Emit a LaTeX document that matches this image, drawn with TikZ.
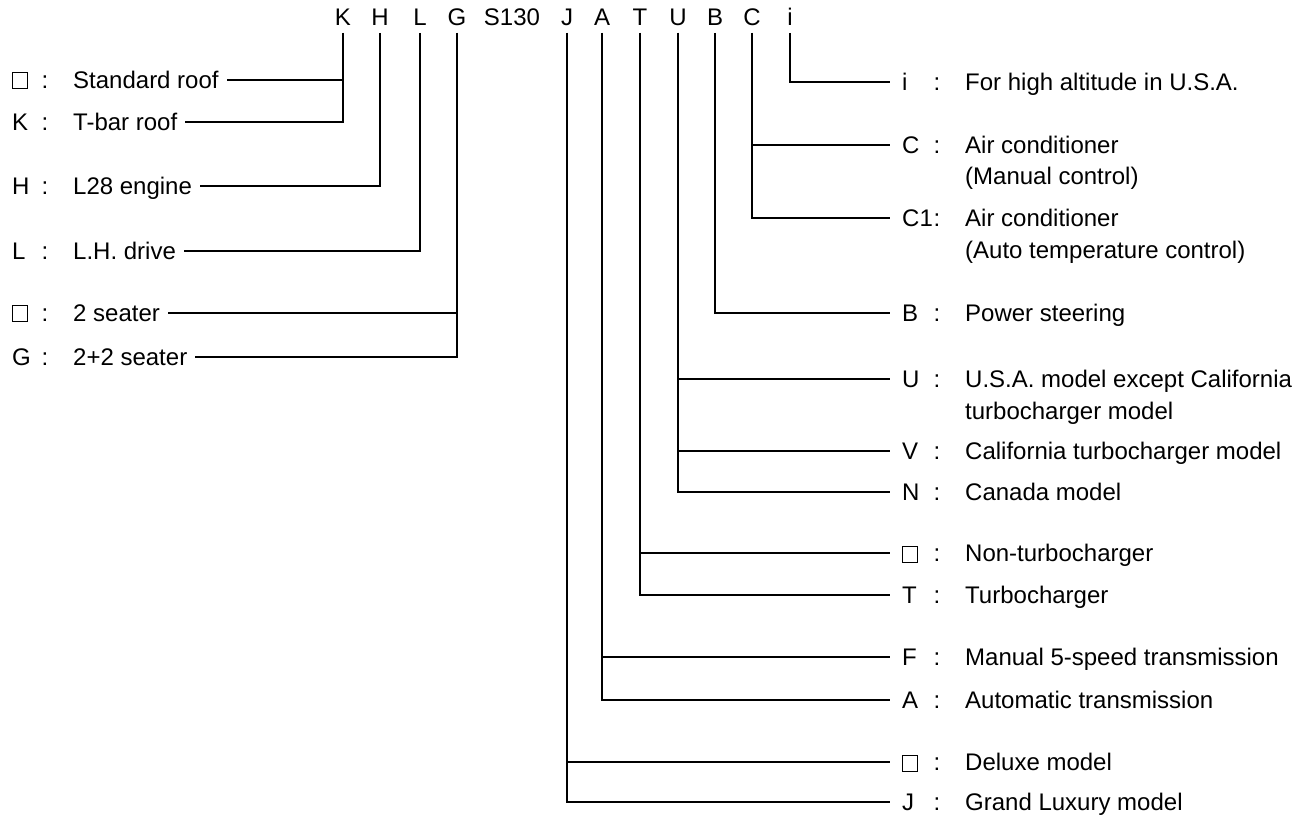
\documentclass[tikz,border=0pt]{standalone}
\usepackage{fontspec}
\setmainfont{Liberation Sans}
\newcommand\lf{\fontsize{24pt}{28pt}\selectfont}
\newcommand\sqb{{\fboxsep=0pt\fboxrule=1pt\fbox{\rule{0pt}{15pt}\hspace{14pt}}}}
\begin{document}
\begin{tikzpicture}[x=1pt,y=-1pt,
  lab/.style={font=\lf, inner sep=0pt, text height=17pt, text depth=0pt, anchor=west},
  colon/.style={font=\lf, inner sep=0pt, text height=17pt, text depth=0pt, anchor=center},
  top/.style={font=\lf, inner sep=0pt, text height=16pt, text depth=0pt, anchor=south},
  conn/.style={line width=1.3pt, line cap=butt, shorten <=7pt},
  lconn/.style={conn, shorten >=8pt},
  rconn/.style={conn, shorten >=12pt}]
\useasboundingbox (0,0) rectangle (1315,818);
% top code
\node[top] (tK) at (343,26) {K};
\node[top] (tH) at (380,26) {H};
\node[top] (tL) at (420,26) {L};
\node[top] (tG) at (457,26) {G};
\node[top] (tS) at (512,26) {S130};
\node[top] (tJ) at (567,26) {J};
\node[top] (tA) at (602,26) {A};
\node[top] (tT) at (640,26) {T};
\node[top] (tU) at (678,26) {U};
\node[top] (tB) at (715,26) {B};
\node[top] (tC) at (752,26) {C};
\node[top] (ti) at (790,26) {i};
% left labels
\node[lab] (kStd) at (12,80) {\sqb};  \node[colon] (cStd) at (45,80) {:};  \node[lab] (lStd) at (73,80) {Standard roof};
\node[lab] (kTb) at (12,122) {K};     \node[colon] (cTb) at (45,122) {:};  \node[lab] (lTb) at (73,122) {T-bar roof};
\node[lab] (kH) at (12,186) {H};      \node[colon] (cH) at (45,186) {:};   \node[lab] (lH) at (73,186) {L28 engine};
\node[lab] (kL) at (12,251) {L};      \node[colon] (cL) at (45,251) {:};   \node[lab] (lL) at (73,251) {L.H. drive};
\node[lab] (k2) at (12,313) {\sqb};   \node[colon] (c2) at (45,313) {:};   \node[lab] (l2) at (73,313) {2 seater};
\node[lab] (kG) at (12,357) {G};      \node[colon] (cG) at (45,357) {:};   \node[lab] (lG) at (73,357) {2+2 seater};
% left connectors
\draw[lconn] (tK.south) |- (lStd.east);
\draw[lconn] (tK.south) |- (lTb.east);
\draw[lconn] (tH.south) |- (lH.east);
\draw[lconn] (tL.south) |- (lL.east);
\draw[lconn] (tG.south) |- (l2.east);
\draw[lconn] (tG.south) |- (lG.east);
% right labels
\node[lab] (ri) at (902,82) {i};      \node[colon] (qi) at (937,82) {:};   \node[lab] (xi) at (965,82) {For high altitude in U.S.A.};
\node[lab] (rC) at (902,145) {C};     \node[colon] (qC) at (937,145) {:};  \node[lab] (xC) at (965,145) {Air conditioner};
\node[lab] (xCb) at (965,176) {(Manual control)};
\node[lab] (rCa) at (902,218) {C1};   \node[colon] (qCa) at (937,218) {:}; \node[lab] (xCa) at (965,218) {Air conditioner};
\node[lab] (xCab) at (965,250) {(Auto temperature control)};
\node[lab] (rB) at (902,313) {B};     \node[colon] (qB) at (937,313) {:};  \node[lab] (xB) at (965,313) {Power steering};
\node[lab] (rU) at (902,379) {U};     \node[colon] (qU) at (937,379) {:};  \node[lab] (xU) at (965,379) {U.S.A. model except California};
\node[lab] (xUb) at (965,411) {turbocharger model};
\node[lab] (rV) at (902,451) {V};     \node[colon] (qV) at (937,451) {:};  \node[lab] (xV) at (965,451) {California turbocharger model};
\node[lab] (rN) at (902,492) {N};     \node[colon] (qN) at (937,492) {:};  \node[lab] (xN) at (965,492) {Canada model};
\node[lab] (rNT) at (902,553) {\sqb}; \node[colon] (qNT) at (937,553) {:}; \node[lab] (xNT) at (965,553) {Non-turbocharger};
\node[lab] (rT) at (902,595) {T};     \node[colon] (qT) at (937,595) {:};  \node[lab] (xT) at (965,595) {Turbocharger};
\node[lab] (rF) at (902,657) {F};     \node[colon] (qF) at (937,657) {:};  \node[lab] (xF) at (965,657) {Manual 5-speed transmission};
\node[lab] (rA) at (902,700) {A};     \node[colon] (qA) at (937,700) {:};  \node[lab] (xA) at (965,700) {Automatic transmission};
\node[lab] (rD) at (902,762) {\sqb};  \node[colon] (qD) at (937,762) {:};  \node[lab] (xD) at (965,762) {Deluxe model};
\node[lab] (rJ) at (902,802) {J};     \node[colon] (qJ) at (937,802) {:};  \node[lab] (xJ) at (965,802) {Grand Luxury model};
% right connectors
\draw[rconn] (ti.south) |- (ri.west);
\draw[rconn] (tC.south) |- (rC.west);
\draw[rconn] (tC.south) |- (rCa.west);
\draw[rconn] (tB.south) |- (rB.west);
\draw[rconn] (tU.south) |- (rU.west);
\draw[rconn] (tU.south) |- (rV.west);
\draw[rconn] (tU.south) |- (rN.west);
\draw[rconn] (tT.south) |- (rNT.west);
\draw[rconn] (tT.south) |- (rT.west);
\draw[rconn] (tA.south) |- (rF.west);
\draw[rconn] (tA.south) |- (rA.west);
\draw[rconn] (tJ.south) |- (rD.west);
\draw[rconn] (tJ.south) |- (rJ.west);
\end{tikzpicture}
\end{document}
